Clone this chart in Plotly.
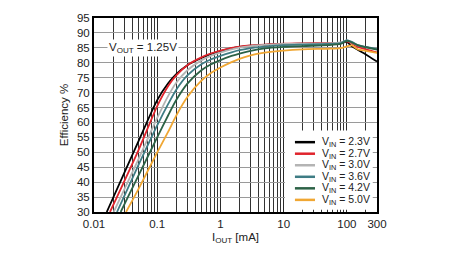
import plotly.graph_objects as go

# Output current (mA) sample points
x_pts = [0.05, 0.1, 0.15, 0.2, 0.3, 0.5, 0.7, 1, 1.5, 2, 3, 5, 10, 20, 50, 80, 100, 120, 150, 200, 300]

# Current where each curve enters the chart at 30 % efficiency
x_start = {"2.3": 0.0159, "2.7": 0.0179, "3.0": 0.0205, "3.6": 0.0231, "4.2": 0.0264, "5.0": 0.0321}

eff_23 = [53.5, 67.5, 73.2, 76.2, 79.2, 81.6, 82.9, 83.9, 84.8, 85.3, 85.7, 86.0, 86.3, 86.4, 86.4, 86.6, 87.0, 85.5, 84.3, 82.8, 80.4]
eff_27 = [50.5, 65.5, 72.3, 75.8, 79.2, 81.8, 83.1, 84.1, 85.0, 85.4, 85.8, 86.1, 86.4, 86.5, 86.6, 86.7, 87.2, 86.5, 85.3, 84.5, 83.5]
eff_30 = [47.5, 61.5, 69.0, 73.3, 77.5, 80.8, 82.3, 83.4, 84.5, 85.1, 85.6, 86.0, 86.3, 86.4, 86.5, 86.8, 87.4, 86.8, 85.8, 85.2, 84.5]
eff_36 = [45.5, 59.0, 66.3, 71.0, 75.8, 79.5, 81.1, 82.3, 83.5, 84.2, 84.9, 85.4, 85.9, 86.1, 86.3, 86.6, 87.6, 87.0, 85.9, 85.3, 84.6]
eff_42 = [42.0, 55.0, 62.5, 67.5, 73.0, 77.5, 79.4, 80.9, 82.3, 83.1, 84.0, 84.8, 85.3, 85.6, 85.9, 86.3, 87.3, 86.8, 85.8, 85.2, 84.4]
eff_50 = [37.5, 50.0, 57.0, 62.3, 68.5, 74.0, 76.5, 78.4, 80.2, 81.3, 82.5, 83.4, 84.1, 84.5, 84.7, 84.9, 85.5, 85.8, 84.5, 84.0, 83.3]

vin_labels = ["2.3", "2.7", "3.0", "3.6", "4.2", "5.0"]
series = [eff_23, eff_27, eff_30, eff_36, eff_42, eff_50]
colors = ["#000000", "#e0242c", "#b4b4b4", "#3e7c84", "#2c6246", "#f0a733"]

x_ticks = [0.01, 0.1, 1, 10, 100, 300]
x_tick_text = ["0.01", "0.1", "1", "10", "100", "300"]

FONT = "Liberation Sans, Arial, sans-serif"
TXT = "#222"

fig = go.Figure()
for lab, eff, col in zip(vin_labels, series, colors):
    fig.add_trace(go.Scatter(
        x=[x_start[lab]] + x_pts,
        y=[30] + eff,
        mode="lines",
        line=dict(color=col, width=1.8, shape="spline", smoothing=0.7),
        name=f"V<sub>IN</sub> = {lab}V",
        showlegend=False,
    ))

fig.update_layout(
    width=456, height=257,
    margin=dict(l=94, r=79, t=12, b=45),
    paper_bgcolor="white", plot_bgcolor="white",
    font=dict(family=FONT, size=11.5, color=TXT),
    showlegend=False,
)

fig.update_xaxes(
    type="log", range=[-2, 2.4771],
    tickvals=x_ticks, ticktext=x_tick_text,
    showgrid=True, gridcolor="#2a2a2a", gridwidth=1,
    minor=dict(showgrid=True, gridcolor="#333", gridwidth=1, dtick="D1", ticks=""),
    showline=True, linecolor="black", linewidth=2, mirror=True,
    ticks="", zeroline=False,
    title=dict(text="I<sub>OUT</sub> [mA]", standoff=4, font=dict(size=11.5)),
)
fig.update_yaxes(
    range=[30, 95], dtick=5, tick0=30,
    showgrid=True, gridcolor="#9a9a9a", gridwidth=1,
    showline=True, linecolor="black", linewidth=2, mirror=True,
    ticks="", zeroline=False,
    title=dict(text="Efficiency %", standoff=6, font=dict(size=11.5)),
)

# V_OUT label sitting on the 85 % gridline
fig.add_annotation(
    x=0.173, xref="paper", xanchor="center", y=85, yref="y", yanchor="middle",
    text="V<sub>OUT</sub> = 1.25V", showarrow=False,
    bgcolor="white", font=dict(size=11.5, family=FONT, color=TXT),
    borderpad=1,
)

# Custom compact legend (white box covering the grid)
fig.add_shape(type="rect", xref="paper", yref="paper",
              x0=0.675, x1=0.985, y0=0.012, y1=0.42,
              fillcolor="white", line=dict(width=0), layer="above")
row_top, row_step = 0.36, 0.0595
for i, (lab, col) in enumerate(zip(vin_labels, colors)):
    yy = row_top - i * row_step
    fig.add_shape(type="line", xref="paper", yref="paper",
                  x0=0.71, x1=0.781, y0=yy, y1=yy,
                  line=dict(color=col, width=2.5), layer="above")
    fig.add_annotation(x=0.798, xref="paper", y=yy, yref="paper",
                       xanchor="left", yanchor="middle", showarrow=False,
                       text=f"V<sub>IN</sub> = {lab}V",
                       font=dict(size=10.5, family=FONT, color=TXT))

fig.write_html("out.html")
